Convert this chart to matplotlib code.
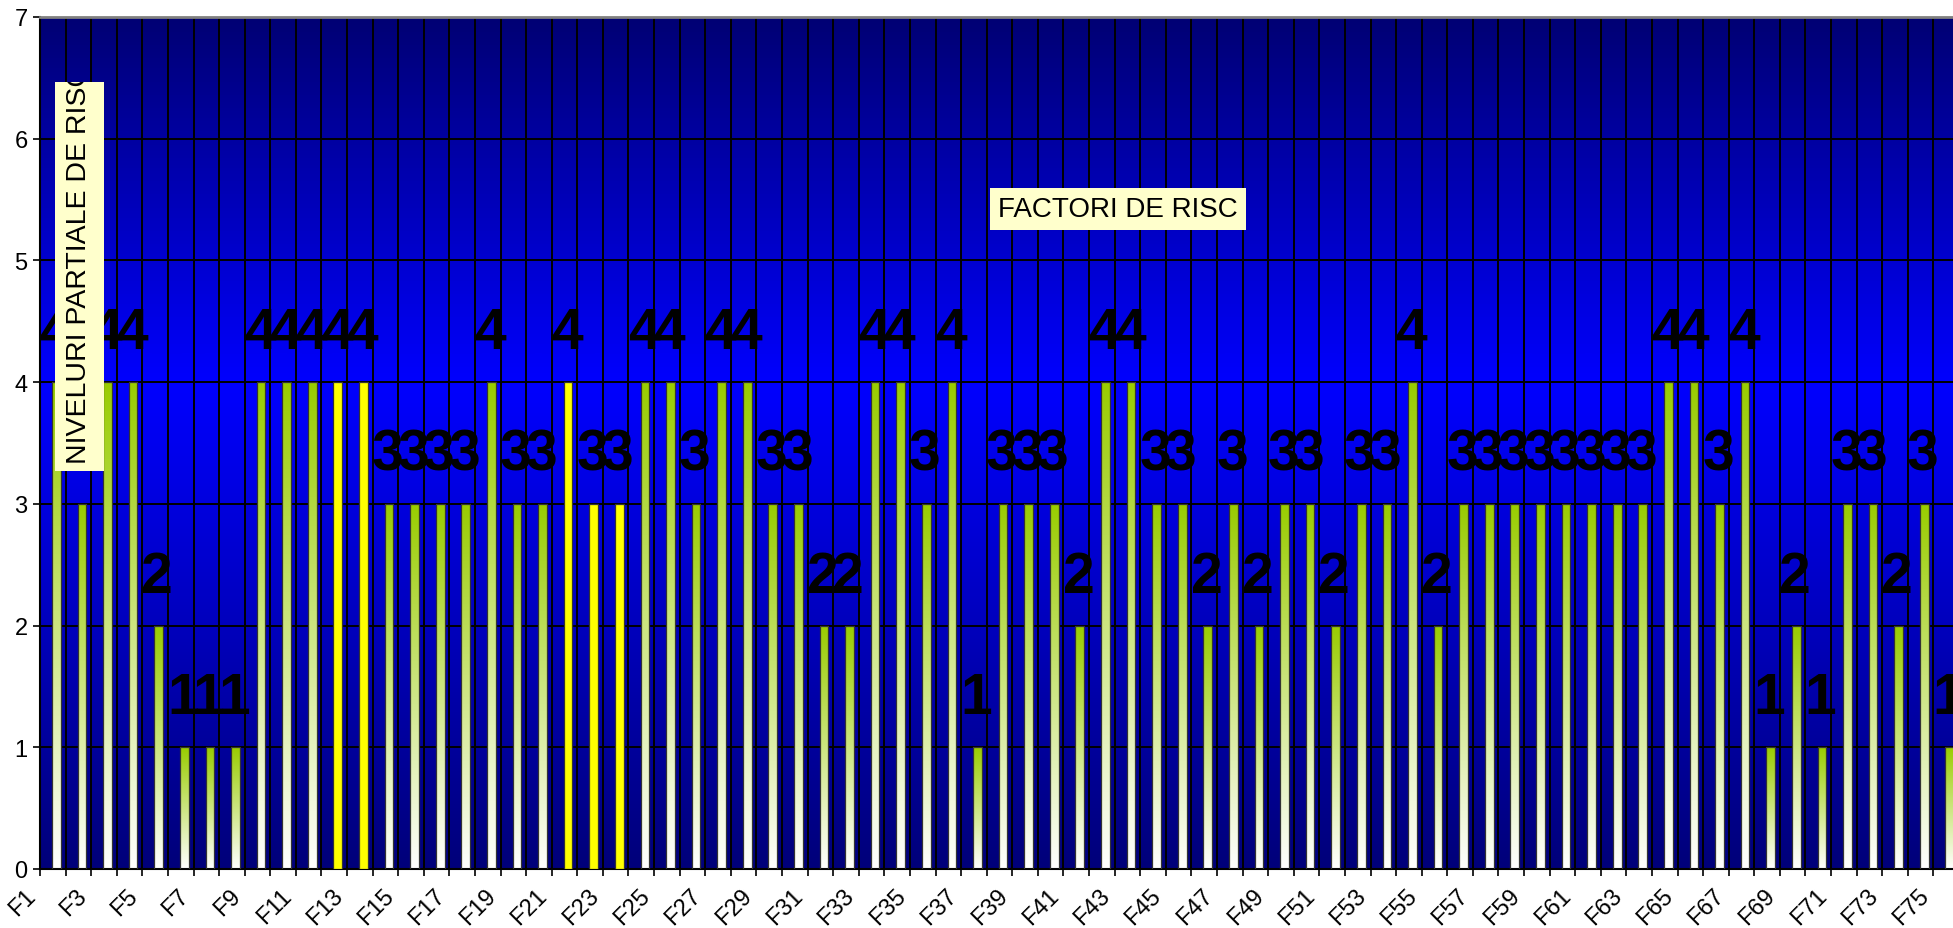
import numpy as np
import matplotlib
matplotlib.use("Agg")
import matplotlib.pyplot as plt
from matplotlib.colors import LinearSegmentedColormap
from matplotlib.patches import Rectangle

categories = ["F%d" % i for i in range(1, 76)]
values = [4, 3, 4, 4, 2, 1, 1, 1, 4, 4, 4, 4, 4, 3, 3, 3, 3, 4,
          3, 3, 4, 3, 3, 4, 4, 3, 4, 4, 3, 3, 2, 2, 4, 4, 3, 4, 1,
          3, 3, 3, 2, 4, 4, 3, 3, 2, 3, 2, 3, 3, 2, 3, 3, 4, 2, 3,
          3, 3, 3, 3, 3, 3, 3, 4, 4, 3, 4, 1, 2, 1, 3, 3, 2, 3, 1]
highlighted = ["F12", "F13", "F21", "F22", "F23"]
y_ticks = [0, 1, 2, 3, 4, 5, 6, 7]
x_title = "FACTORI DE RISC"
y_title = "NIVELURI PARTIALE DE RISC"

FONT = "Liberation Sans"
W, H = 1953, 929
fig = plt.figure(figsize=(W / 100, H / 100), dpi=100)
ax = fig.add_axes([40 / W, 59 / H, 1919 / W, 852 / H])

n = len(categories)
pos = np.arange(1, n + 1)
bar_off = 0.14
bar_w = 0.34

# plot-area background gradient (navy -> blue -> navy)
bg_cmap = LinearSegmentedColormap.from_list(
    "bg", [(0.0, "#00007a"), (0.57, "#0000ff"), (1.0, "#000074")])
grad = np.linspace(0, 1, 256).reshape(-1, 1)
ax.imshow(grad, cmap=bg_cmap, origin="lower", extent=[0.5, n + 0.5, 0, 7],
          aspect="auto", zorder=0, interpolation="bilinear")

# bars: white -> yellow-green gradient, highlighted ones solid yellow
bar_cmap = LinearSegmentedColormap.from_list("bar", ["#ffffff", "#99cc00"])
bars = ax.bar(pos + bar_off, values, width=bar_w, zorder=3,
              edgecolor="#333333", linewidth=0.9)
for cat, rect in zip(categories, bars):
    if cat in highlighted:
        rect.set_facecolor("#ffff00")
    else:
        rect.set_facecolor("none")
        x0 = rect.get_x()
        x1 = x0 + rect.get_width()
        h = rect.get_height()
        im = ax.imshow(grad, cmap=bar_cmap, origin="lower",
                       extent=[x0, x1, 0, h], aspect="auto", zorder=2.5,
                       interpolation="bilinear")
        im.set_clip_path(rect)

# data labels
for x, v in zip(pos + bar_off, values):
    ax.annotate(str(v), xy=(x, v), xytext=(-1, 24.5), textcoords="offset points",
                ha="center", va="baseline", fontsize=41, fontweight="bold",
                family=FONT, color="black", zorder=5, annotation_clip=False)

# axes, ticks, grid
bounds = np.arange(0.5, n + 1.0, 1.0)
ax.set_xticks(bounds)
ax.set_xticklabels([categories[i] if (i < n and i % 2 == 0) else ""
                    for i in range(len(bounds))],
                   rotation=45, ha="right", va="top", fontsize=17, family=FONT)
ax.set_yticks(y_ticks)
ax.set_yticklabels([str(t) for t in y_ticks], fontsize=17, family=FONT)
ax.tick_params(axis="x", length=5, width=1.2, pad=6, color="black")
ax.tick_params(axis="y", length=5, width=1.2, pad=4, color="black")
ax.grid(True, color="black", linewidth=1.4)
ax.set_axisbelow(True)
ax.set_xlim(0.5, n + 0.5)
ax.set_ylim(0, 7)

ax.spines["top"].set_color("#808080")
ax.spines["top"].set_linewidth(2)
ax.spines["left"].set_color("black")
ax.spines["left"].set_linewidth(1.5)
ax.spines["bottom"].set_color("black")
ax.spines["bottom"].set_linewidth(1.5)
ax.spines["right"].set_visible(False)

# y-axis title in a light-yellow box inside the plot area
box = Rectangle((55 / W, 1 - 472 / H), 49 / W, 389 / H, transform=fig.transFigure,
                facecolor="#ffffcc", edgecolor="none", zorder=10)
fig.add_artist(box)
t = fig.text(79.5 / W, 1 - 464 / H, y_title, rotation=90, ha="center", va="bottom",
             fontsize=20.5, family=FONT, color="black", zorder=11)
t.set_clip_path(box)

# x-axis title box
fig.text(1118 / W, 1 - 210 / H, x_title, ha="center", va="center", fontsize=20,
         family=FONT, color="black", zorder=11,
         bbox=dict(boxstyle="square,pad=0.3", fc="#ffffcc", ec="none"))

fig.savefig("out.png", dpi=100)
